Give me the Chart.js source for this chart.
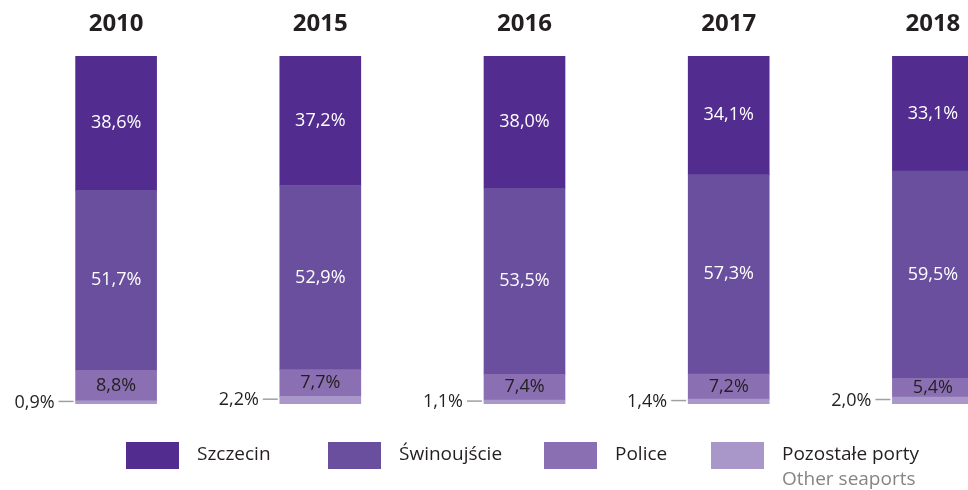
<!DOCTYPE html>
<html>
<head>
<meta charset="utf-8">
<script src="https://cdn.jsdelivr.net/npm/chart.js@4"></script>
<style>
  html, body { margin: 0; padding: 0; background: #fff; overflow: hidden; }
  #chart { display: block; }
</style>
</head>
<body>
<canvas id="chart" width="1045" height="490"></canvas>
<script>
// Port traffic share by year (%)
const years = ['2010', '2015', '2016', '2017', '2018'];
const szczecin = [38.6, 37.2, 38.0, 34.1, 33.1];
const swinoujscie = [51.7, 52.9, 53.5, 57.3, 59.5];
const police = [8.8, 7.7, 7.4, 7.2, 5.4];
const otherPorts = [0.9, 2.2, 1.1, 1.4, 2.0];

const legendNames = ['Szczecin', 'Świnoujście', 'Police', 'Pozostałe porty'];
const legendSub = ['', '', '', 'Other seaports'];

const COLORS = {
  szczecin: '#522d8f',
  swinoujscie: '#6a4f9e',
  police: '#8a70b3',
  other: '#a897c8'
};
const FONT = '"Open Sans", "Noto Sans", sans-serif';
const TEXT_DARK = '#231f20';

function fmt(v) {
  return v.toFixed(1).replace('.', ',') + '%';
}

// value labels inside bars + small leader labels for the bottom segment
const labelsPlugin = {
  id: 'segmentLabels',
  afterDatasetsDraw(chart) {
    const ctx = chart.ctx;
    ctx.save();
    ctx.font = '18px ' + FONT;
    ctx.textBaseline = 'middle';
    chart.data.datasets.forEach((ds, di) => {
      const meta = chart.getDatasetMeta(di);
      meta.data.forEach((bar, i) => {
        const v = ds.data[i];
        const cy = (bar.y + bar.base) / 2;
        if (ds.smallLabel) {
          const left = bar.x - bar.width / 2;
          ctx.strokeStyle = '#a0a0a0';
          ctx.lineWidth = 1.5;
          ctx.beginPath();
          ctx.moveTo(left - 17, cy - 1);
          ctx.lineTo(left - 2, cy - 1);
          ctx.stroke();
          ctx.fillStyle = TEXT_DARK;
          ctx.textAlign = 'right';
          ctx.fillText(fmt(v), left - 21, cy);
        } else {
          ctx.fillStyle = ds.labelColor;
          ctx.textAlign = 'center';
          ctx.fillText(fmt(v), bar.x, cy);
        }
      });
    });
    // year headings above the bars
    ctx.font = 'bold 24px ' + FONT;
    ctx.fillStyle = TEXT_DARK;
    ctx.textAlign = 'center';
    const meta0 = chart.getDatasetMeta(0);
    meta0.data.forEach((bar, i) => {
      ctx.fillText(chart.data.labels[i], bar.x, 24);
    });
    ctx.restore();
  }
};

// legend drawn by hand: Szczecin first, bottom segment last
const legendPlugin = {
  id: 'customLegend',
  afterDraw(chart) {
    const ctx = chart.ctx;
    const xs = [126, 328, 544, 711];
    const swatch = [COLORS.szczecin, COLORS.swinoujscie, COLORS.police, COLORS.other];
    ctx.save();
    ctx.textBaseline = 'middle';
    ctx.textAlign = 'left';
    legendNames.forEach((name, i) => {
      ctx.fillStyle = swatch[i];
      ctx.fillRect(xs[i], 442, 53, 27);
      ctx.font = '19px ' + FONT;
      ctx.fillStyle = TEXT_DARK;
      ctx.fillText(name, xs[i] + 71, 455);
      if (legendSub[i]) {
        ctx.fillStyle = '#858585';
        ctx.fillText(legendSub[i], xs[i] + 71, 480);
      }
    });
    ctx.restore();
  }
};

new Chart(document.getElementById('chart'), {
  type: 'bar',
  data: {
    labels: years,
    datasets: [
      { label: legendNames[3], data: otherPorts, backgroundColor: COLORS.other, smallLabel: true },
      { label: legendNames[2], data: police, backgroundColor: COLORS.police, labelColor: TEXT_DARK },
      { label: legendNames[1], data: swinoujscie, backgroundColor: COLORS.swinoujscie, labelColor: '#ffffff' },
      { label: legendNames[0], data: szczecin, backgroundColor: COLORS.szczecin, labelColor: '#ffffff' }
    ]
  },
  options: {
    responsive: false,
    animation: false,
    layout: {
      padding: { left: 14, right: 10, top: 56, bottom: 86 }
    },
    datasets: {
      bar: { barThickness: 81, borderWidth: 0 }
    },
    scales: {
      x: { stacked: true, display: false },
      y: { stacked: true, display: false, min: 0, max: 100 }
    },
    plugins: {
      legend: { display: false },
      tooltip: { enabled: false }
    }
  },
  plugins: [labelsPlugin, legendPlugin]
});
</script>
</body>
</html>
